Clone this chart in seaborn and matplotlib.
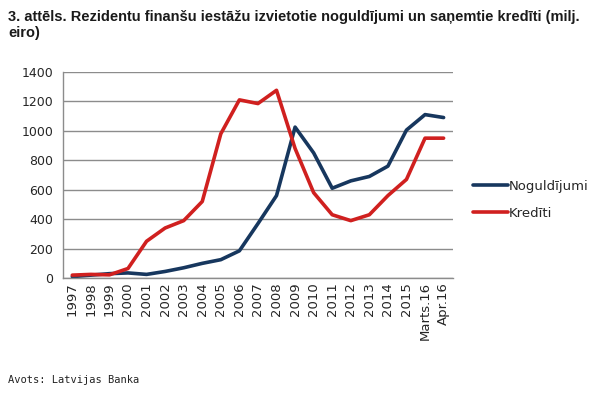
import matplotlib
matplotlib.use("Agg")
import matplotlib.pyplot as plt
import numpy as np
import pandas as pd
import seaborn as sns

categories = ["1997", "1998", "1999", "2000", "2001", "2002", "2003", "2004",
              "2005", "2006", "2007", "2008", "2009", "2010", "2011", "2012",
              "2013", "2014", "2015", "Marts.16", "Apr.16"]
noguldijumi = [10, 20, 30, 35, 25, 45, 70, 100, 125, 185, 370, 560, 1025, 850,
               610, 660, 690, 760, 1005, 1110, 1090]
krediti = [20, 25, 22, 65, 250, 340, 390, 520, 980, 1210, 1185, 1275, 880, 580,
           430, 390, 430, 560, 670, 950, 950]

BLUE = "#17375E"
RED = "#D0201F"
GRID = "#8C8C8C"

df = pd.DataFrame({
    "pos": np.tile(np.arange(len(categories)), 2),
    "value": noguldijumi + krediti,
    "series": ["Noguldījumi"] * len(categories) + ["Kredīti"] * len(categories),
})

sns.set_style("white")
plt.rcParams["font.family"] = ["DejaVu Sans"]

fig = plt.figure(figsize=(6.13, 3.95), dpi=100)
ax = fig.add_axes([0.1028, 0.296, 0.636, 0.522])

sns.lineplot(data=df, x="pos", y="value", hue="series",
             palette={"Noguldījumi": BLUE, "Kredīti": RED},
             linewidth=2.6, ax=ax, legend=True)

ax.set_xlim(-0.5, len(categories) - 0.5)
ax.set_ylim(0, 1400)
ax.set_yticks(range(0, 1401, 200))
ax.set_yticklabels([str(v) for v in range(0, 1401, 200)], fontsize=9)
ax.set_xticks(np.arange(len(categories)))
ax.set_xticklabels(categories, rotation=90, fontsize=9.5)
ax.set_xticks(np.arange(len(categories) + 1) - 0.5, minor=True)
ax.tick_params(axis="x", which="major", length=0, pad=3)
ax.tick_params(axis="x", which="minor", length=4, color=GRID, direction="out")
ax.tick_params(axis="y", length=4, color=GRID, direction="out", pad=3)
ax.set_xlabel("")
ax.set_ylabel("")

ax.yaxis.grid(True, color=GRID, linewidth=1)
ax.set_axisbelow(True)
for side in ["top", "right"]:
    ax.spines[side].set_visible(False)
for side in ["left", "bottom"]:
    ax.spines[side].set_color(GRID)
    ax.spines[side].set_linewidth(1)

leg = ax.legend(loc="center left", bbox_to_anchor=(1.022, 0.38), frameon=False,
                fontsize=9.5, handlelength=2.6, handletextpad=0.1,
                labelspacing=1.05)
for line in leg.get_lines():
    line.set_linewidth(2.6)

fig.text(0.013, 0.975,
         "3. attēls. Rezidentu finanšu iestāžu izvietotie noguldījumi un saņemtie kredīti (milj.\neiro)",
         fontsize=10.5, fontweight="bold", va="top", ha="left", color="#1a1a1a",
         family=["Liberation Sans"], linespacing=1.2)
fig.text(0.013, 0.025, "Avots: Latvijas Banka", fontsize=7.5,
         family=["DejaVu Sans Mono"], color="#222222", va="bottom")

fig.savefig("out.png", dpi=100)
